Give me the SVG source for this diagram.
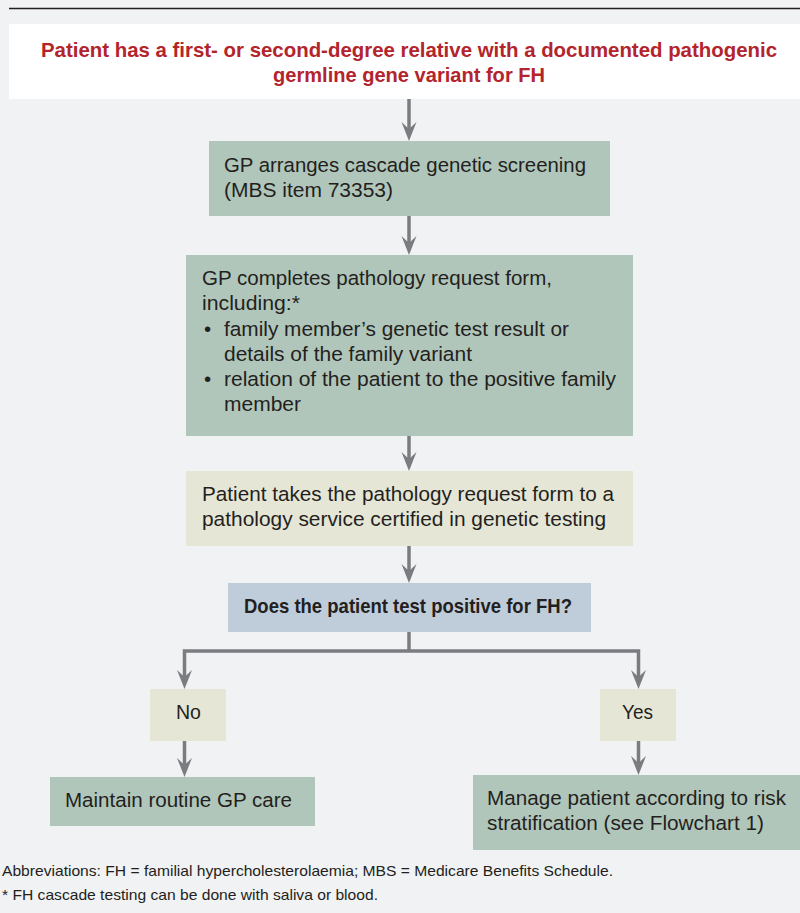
<svg xmlns="http://www.w3.org/2000/svg" xmlns:xlink="http://www.w3.org/1999/xlink" width="800" height="913" viewBox="0 0 800 913">
<style>
.t{font-family:"Liberation Sans",Arial,sans-serif;font-size:20.5px;fill:#231f20}
.b{font-weight:bold}
.title{font-family:"Liberation Sans",Arial,sans-serif;font-size:20.5px;font-weight:bold;fill:#b3242c}
.fn{font-family:"Liberation Sans",Arial,sans-serif;font-size:14.5px;fill:#231f20}
.green{fill:#b1c6ba}
.beige{fill:#e6e6d6}
.blue{fill:#bfcdda}
.ln{stroke:#7b7c80;stroke-width:3.5;fill:none}
.ah{fill:#7b7c80}
</style>
<defs>
<path id="ah" d="M0,0 L-7.5,-19 L0,-12 L7.5,-19 Z"/>
</defs>
<rect width="800" height="913" fill="#f1f2f4"/>
<line x1="9" y1="8.5" x2="800" y2="8.5" stroke="#231f20" stroke-width="1.5"/>

<g id="connectors">
<path class="ln" d="M409,99 V130"/>
<use href="#ah" class="ah" x="409" y="141"/>
<path class="ln" d="M409,216 V244"/>
<use href="#ah" class="ah" x="409" y="255"/>
<path class="ln" d="M409,436 V460"/>
<use href="#ah" class="ah" x="409" y="471"/>
<path class="ln" d="M409,546 V572"/>
<use href="#ah" class="ah" x="409" y="583"/>
<path class="ln" d="M409,632 V651 M184.5,680 V651 H638.5 V680"/>
<use href="#ah" class="ah" x="184.5" y="689"/>
<use href="#ah" class="ah" x="638.5" y="689"/>
<path class="ln" d="M184.5,741 V767"/>
<use href="#ah" class="ah" x="184.5" y="777"/>
<path class="ln" d="M638.5,741 V765"/>
<use href="#ah" class="ah" x="638.5" y="775"/>
</g>

<g id="n1">
<rect x="9" y="24" width="791" height="75" fill="#ffffff"/>
<text class="title" x="409" y="57" text-anchor="middle" textLength="736" lengthAdjust="spacingAndGlyphs">Patient has a first- or second-degree relative with a documented pathogenic</text>
<text class="title" x="409" y="82" text-anchor="middle" textLength="272" lengthAdjust="spacingAndGlyphs">germline gene variant for FH</text>
</g>

<g id="n2">
<rect class="green" x="209" y="141" width="401" height="75"/>
<text class="t" x="224" y="172" textLength="362" lengthAdjust="spacingAndGlyphs">GP arranges cascade genetic screening</text>
<text class="t" x="224" y="197" textLength="169" lengthAdjust="spacingAndGlyphs">(MBS item 73353)</text>
</g>

<g id="n3">
<rect class="green" x="186" y="255" width="447" height="181"/>
<text class="t" x="202" y="285" textLength="350" lengthAdjust="spacingAndGlyphs">GP completes pathology request form,</text>
<text class="t" x="202" y="310" textLength="98" lengthAdjust="spacingAndGlyphs">including:*</text>
<text class="t" x="204" y="336">•</text>
<text class="t" x="224" y="336" textLength="345" lengthAdjust="spacingAndGlyphs">family member’s genetic test result or</text>
<text class="t" x="224" y="361" textLength="248" lengthAdjust="spacingAndGlyphs">details of the family variant</text>
<text class="t" x="204" y="386">•</text>
<text class="t" x="224" y="386" textLength="392" lengthAdjust="spacingAndGlyphs">relation of the patient to the positive family</text>
<text class="t" x="224" y="411" textLength="77" lengthAdjust="spacingAndGlyphs">member</text>
</g>

<g id="n4">
<rect class="beige" x="186" y="471" width="447" height="75"/>
<text class="t" x="202" y="501" textLength="412" lengthAdjust="spacingAndGlyphs">Patient takes the pathology request form to a</text>
<text class="t" x="202" y="526" textLength="404" lengthAdjust="spacingAndGlyphs">pathology service certified in genetic testing</text>
</g>

<g id="n5">
<rect class="blue" x="228" y="583" width="363" height="49"/>
<text class="t b" x="244" y="613" textLength="328" lengthAdjust="spacingAndGlyphs">Does the patient test positive for FH?</text>
</g>

<g id="n6">
<rect class="beige" x="150" y="689" width="76" height="52"/>
<text class="t" x="176" y="719" textLength="25" lengthAdjust="spacingAndGlyphs">No</text>
</g>

<g id="n7">
<rect class="beige" x="600" y="689" width="76" height="52"/>
<text class="t" x="622" y="719" textLength="31" lengthAdjust="spacingAndGlyphs">Yes</text>
</g>

<g id="n8">
<rect class="green" x="50" y="777" width="265" height="49"/>
<text class="t" x="65" y="807" textLength="227" lengthAdjust="spacingAndGlyphs">Maintain routine GP care</text>
</g>

<g id="n9">
<rect class="green" x="473" y="775" width="327" height="75"/>
<text class="t" x="487" y="805" textLength="299" lengthAdjust="spacingAndGlyphs">Manage patient according to risk</text>
<text class="t" x="487" y="830" textLength="277" lengthAdjust="spacingAndGlyphs">stratification (see Flowchart 1)</text>
</g>

<g id="notes">
<text class="fn" x="2" y="876" textLength="611" lengthAdjust="spacingAndGlyphs">Abbreviations: FH = familial hypercholesterolaemia; MBS = Medicare Benefits Schedule.</text>
<text class="fn" x="2" y="900" textLength="376" lengthAdjust="spacingAndGlyphs">* FH cascade testing can be done with saliva or blood.</text>
</g>
</svg>
